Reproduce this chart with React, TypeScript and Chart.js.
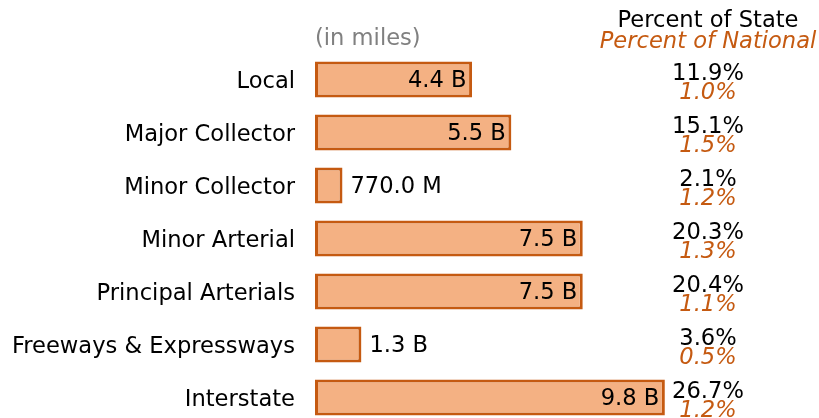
import React, { useEffect, useRef } from "react";
import { Chart, registerables } from "chart.js";

Chart.register(...registerables);

const categories = [
  "Local",
  "Major Collector",
  "Minor Collector",
  "Minor Arterial",
  "Principal Arterials",
  "Freeways & Expressways",
  "Interstate",
];
const milesBillions = [4.4, 5.5, 0.77, 7.5, 7.5, 1.3, 9.8];
const pctState = [11.9, 15.1, 2.1, 20.3, 20.4, 3.6, 26.7];
const pctNational = [1.0, 1.5, 1.2, 1.3, 1.1, 0.5, 1.2];
const unitNote = "(in miles)";
const headerState = "Percent of State";
const headerNational = "Percent of National";

const FONT = "'DejaVu Sans', sans-serif";
const FS = 22.6;
const ORANGE = "#C55A11";
const FILL = "#F4B183";

function fmtMiles(v: number): string {
  if (v < 1) return (v * 1000).toFixed(1) + " M";
  return v.toFixed(1) + " B";
}

const annotations = {
  id: "annotations",
  afterDatasetsDraw(chart: any) {
    const ctx = chart.ctx as CanvasRenderingContext2D;
    const area = chart.chartArea;
    const yScale = chart.scales.y;
    const colX = 708;
    ctx.save();
    ctx.font = `${FS}px ${FONT}`;
    ctx.textBaseline = "alphabetic";
    const meta = chart.getDatasetMeta(0);
    meta.data.forEach((bar: any, i: number) => {
      const { x, y, base } = bar.getProps(["x", "y", "base"], true);
      const txt = fmtMiles(milesBillions[i]);
      const w = ctx.measureText(txt).width;
      ctx.fillStyle = "#000";
      if (w + 10 < x - base) {
        ctx.textAlign = "right";
        ctx.fillText(txt, x - 5.5, y + 7.2);
      } else {
        ctx.textAlign = "left";
        ctx.fillText(txt, x + 8, y + 7.2);
      }
    });
    ctx.textAlign = "center";
    categories.forEach((_, i) => {
      const cy = yScale.getPixelForValue(i);
      ctx.font = `${FS}px ${FONT}`;
      ctx.fillStyle = "#000";
      ctx.fillText(pctState[i].toFixed(1) + "%", colX, cy);
      ctx.font = `italic ${FS}px ${FONT}`;
      ctx.fillStyle = ORANGE;
      ctx.fillText(pctNational[i].toFixed(1) + "%", colX, cy + 19.7);
    });
    ctx.font = `${FS}px ${FONT}`;
    ctx.fillStyle = "#000";
    ctx.fillText(headerState, colX, 26.5);
    ctx.font = `italic ${FS}px ${FONT}`;
    ctx.fillStyle = ORANGE;
    ctx.fillText(headerNational, colX, 48);
    ctx.font = `${FS}px ${FONT}`;
    ctx.fillStyle = "#808080";
    ctx.textAlign = "left";
    ctx.fillText(unitNote, area.left, 45);
    ctx.restore();
  },
};

export default function App() {
  const ref = useRef<HTMLCanvasElement | null>(null);
  useEffect(() => {
    if (!ref.current) return;
    const chart = new Chart(ref.current, {
      type: "bar",
      data: {
        labels: categories,
        datasets: [
          {
            data: milesBillions,
            backgroundColor: FILL,
            borderColor: ORANGE,
            borderWidth: 3,
            borderSkipped: false,
            barPercentage: 0.68,
            categoryPercentage: 1,
          },
        ],
      },
      options: {
        indexAxis: "y",
        animation: false,
        responsive: true,
        maintainAspectRatio: false,
        layout: { padding: { top: 53, right: 147, left: 0, bottom: 0 } },
        plugins: {
          legend: { display: false },
          tooltip: { enabled: false },
          title: { display: false },
        },
        scales: {
          x: { display: false, min: 0, max: 10 },
          y: {
            grid: { display: false, drawTicks: false },
            border: { display: false },
            ticks: {
              color: "#000",
              padding: 20,
              labelOffset: 2.5,
              font: { family: FONT, size: FS },
            },
            afterFit: (scale: any) => {
              scale.width = 315;
              scale.paddingTop = 0;
              scale.paddingBottom = 0;
            },
          },
        },
      },
      plugins: [annotations],
    });
    return () => chart.destroy();
  }, []);
  return (
    <div
      style={{
        position: "absolute",
        left: 0,
        top: 0,
        width: 819,
        height: 418,
        overflow: "hidden",
        background: "#fff",
      }}
    >
      <div style={{ position: "relative", width: 819, height: 424 }}>
        <canvas ref={ref} />
      </div>
    </div>
  );
}
